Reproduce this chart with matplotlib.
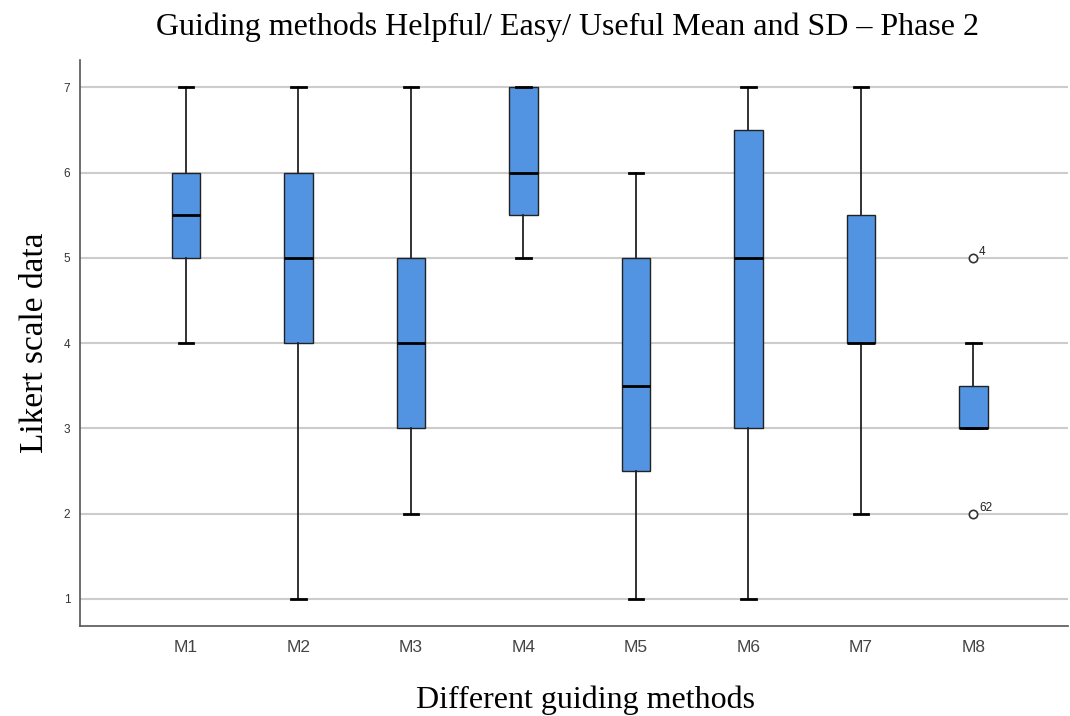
import matplotlib
matplotlib.use('Agg')
import matplotlib.pyplot as plt

methods = ['M1', 'M2', 'M3', 'M4', 'M5', 'M6', 'M7', 'M8']
whisk_low = [4, 1, 2, 5, 1, 1, 2, 3]
q1 = [5, 4, 3, 5.5, 2.5, 3, 4, 3]
median = [5.5, 5, 4, 6, 3.5, 5, 4, 3]
q3 = [6, 6, 5, 7, 5, 6.5, 5.5, 3.5]
whisk_high = [7, 7, 7, 7, 6, 7, 7, 4]
outliers = [[], [], [], [], [], [], [], [5, 2]]
outlier_ids = [[], [], [], [], [], [], [], ['4', '62']]


def main():
    fig = plt.figure(figsize=(10.7, 7.16), dpi=100)
    ax = fig.add_axes([80 / 1070, 90 / 716, 988 / 1070, 566 / 716])

    stats = []
    for i in range(len(methods)):
        stats.append({'whislo': whisk_low[i], 'q1': q1[i], 'med': median[i],
                      'q3': q3[i], 'whishi': whisk_high[i],
                      'fliers': outliers[i], 'label': methods[i]})

    ax.bxp(stats, positions=range(1, 9), widths=0.25, patch_artist=True,
           boxprops=dict(facecolor='#5294E2', edgecolor='#222222', linewidth=1),
           medianprops=dict(color='black', linewidth=2),
           whiskerprops=dict(color='#222222', linewidth=1.3),
           capprops=dict(color='black', linewidth=2),
           capwidths=0.13,
           flierprops=dict(marker='o', markerfacecolor='white',
                           markeredgecolor='#333333', markersize=6,
                           markeredgewidth=1.2))

    for i in range(len(methods)):
        for val, lab in zip(outliers[i], outlier_ids[i]):
            ax.text(i + 1 + 0.05, val + 0.03, lab, fontsize=8.5,
                    family='Liberation Sans', color='#222222')

    ax.set_xlim(0.058, 8.84)
    ax.set_ylim(0.683, 7.32)
    ax.set_yticks(range(1, 8))
    ax.yaxis.grid(True, color='#cccccc', linewidth=1.5)
    ax.set_axisbelow(True)
    ax.tick_params(axis='y', length=0, labelsize=8.5, colors='#333333', pad=7)
    ax.tick_params(axis='x', length=0, labelsize=12.5, colors='#444444', pad=10)
    for lab in ax.get_xticklabels() + ax.get_yticklabels():
        lab.set_family('Liberation Sans')
    for s in ['top', 'right']:
        ax.spines[s].set_visible(False)
    ax.spines['left'].set_color('#555555')
    ax.spines['bottom'].set_color('#555555')
    ax.spines['left'].set_linewidth(1.2)
    ax.spines['bottom'].set_linewidth(1.2)

    fig.text(0.53, 0.962, 'Guiding methods Helpful/ Easy/ Useful Mean and SD \u2013 Phase 2',
             ha='center', va='center', fontsize=23, family='Liberation Serif')
    ax.set_xlabel('Different guiding methods', fontsize=23,
                  family='Liberation Serif', labelpad=20)
    ax.xaxis.set_label_coords(0.512, -0.106)
    ax.set_ylabel('Likert scale data', fontsize=24,
                  family='Liberation Serif', labelpad=10)

    fig.savefig('out.png', dpi=100)


if __name__ == '__main__':
    main()
